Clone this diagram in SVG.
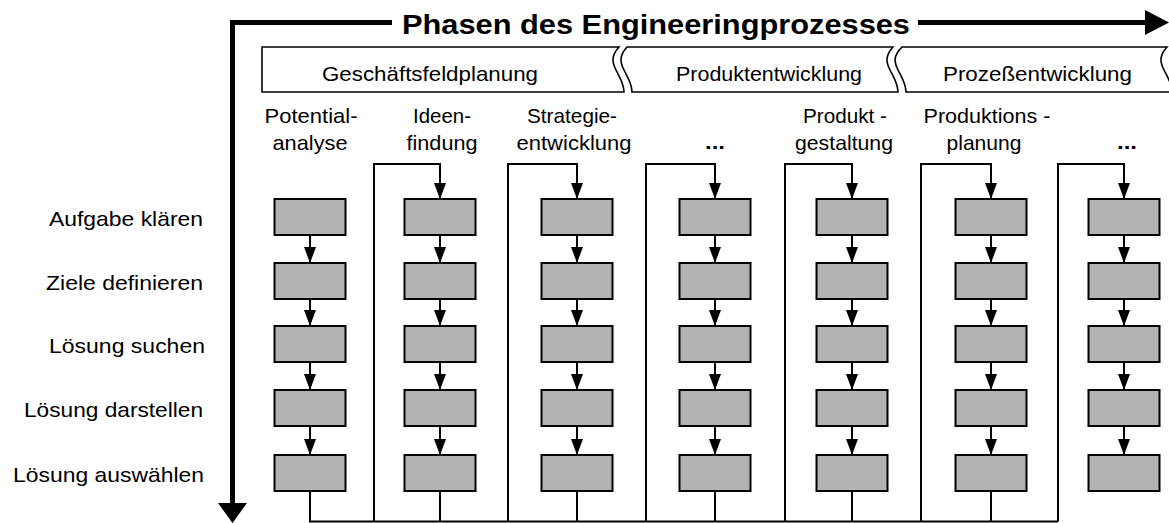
<svg xmlns="http://www.w3.org/2000/svg" width="1169" height="523" viewBox="0 0 1169 523">
<style>
text{font-family:"Liberation Sans",Arial,sans-serif;fill:#000}
.t{font-size:21px}
.c{font-size:21px;text-anchor:middle}
.l{font-size:21px;text-anchor:end}
.b{font-weight:bold}
.box{fill:#b3b3b3;stroke:#000;stroke-width:2}
.seg{fill:#fff;stroke:#000;stroke-width:1.6}
.ln{fill:none;stroke:#000;stroke-width:2}
</style>
<defs>
<marker id="ah" markerUnits="userSpaceOnUse" markerWidth="16" markerHeight="12" refX="16" refY="6" orient="auto">
<path d="M0,0 L16,6 L0,12 Z" fill="#000"/>
</marker>
</defs>

<g id="axes">
<path d="M232.5,514 V22.5 H392 M918,22.5 H1148" fill="none" stroke="#000" stroke-width="5"/>
<polygon points="1145,10 1169,22.5 1145,35" fill="#000"/>
<polygon points="218,503 247,503 232.5,523" fill="#000"/>
<text x="402" y="34" font-size="27.5" class="b" textLength="508" lengthAdjust="spacingAndGlyphs">Phasen des Engineeringprozesses</text>
</g>

<g id="header">
<path class="seg" d="M262,47 H619 C611,56 612,62 616,70 C620,78 624,84 624,92 H262 Z"/>
<path class="seg" d="M627,47 H893 C885,56 886,62 890,70 C894,78 898,84 898,92 H632 C632,84 628,78 624,70 C620,62 619,56 627,47 Z"/>
<path class="seg" d="M902,47 H1167 C1159,56 1160,62 1164,70 C1168,78 1172,84 1172,92 H906 C906,84 902,78 898,70 C894,62 893,56 902,47 Z"/>
<text class="t" x="322" y="81" textLength="216" lengthAdjust="spacingAndGlyphs">Geschäftsfeldplanung</text>
<text class="t" x="676" y="81" textLength="186" lengthAdjust="spacingAndGlyphs">Produktentwicklung</text>
<text class="t" x="943" y="81" textLength="189" lengthAdjust="spacingAndGlyphs">Prozeßentwicklung</text>
</g>

<g id="row-labels">
<text class="l" x="203" y="226" textLength="154" lengthAdjust="spacingAndGlyphs">Aufgabe klären</text>
<text class="l" x="203" y="290" textLength="157" lengthAdjust="spacingAndGlyphs">Ziele definieren</text>
<text class="l" x="205" y="353" textLength="156" lengthAdjust="spacingAndGlyphs">Lösung suchen</text>
<text class="l" x="203" y="417" textLength="179" lengthAdjust="spacingAndGlyphs">Lösung darstellen</text>
<text class="l" x="204" y="482" textLength="191" lengthAdjust="spacingAndGlyphs">Lösung auswählen</text>
</g>

<g id="col-labels">
<text class="c" x="311" y="123" textLength="93" lengthAdjust="spacingAndGlyphs">Potential-</text>
<text class="c" x="310" y="150" textLength="75" lengthAdjust="spacingAndGlyphs">analyse</text>
<text class="c" x="442" y="123" textLength="58" lengthAdjust="spacingAndGlyphs">Ideen-</text>
<text class="c" x="442" y="150" textLength="71" lengthAdjust="spacingAndGlyphs">findung</text>
<text class="c" x="572" y="123" textLength="90" lengthAdjust="spacingAndGlyphs">Strategie-</text>
<text class="c" x="574" y="150" textLength="115" lengthAdjust="spacingAndGlyphs">entwicklung</text>
<text class="c b" x="715" y="149" textLength="20" lengthAdjust="spacingAndGlyphs">...</text>
<text class="c" x="845" y="123" textLength="84" lengthAdjust="spacingAndGlyphs">Produkt -</text>
<text class="c" x="844" y="150" textLength="98" lengthAdjust="spacingAndGlyphs">gestaltung</text>
<text class="c" x="987" y="123" textLength="127" lengthAdjust="spacingAndGlyphs">Produktions -</text>
<text class="c" x="984" y="150" textLength="75" lengthAdjust="spacingAndGlyphs">planung</text>
<text class="c b" x="1127" y="149" textLength="20" lengthAdjust="spacingAndGlyphs">...</text>
</g>

<g id="connectors">
<path class="ln" d="M310,491 V521.5 H1058"/>
<path class="ln" d="M374,521.5 V164 H440 V199" marker-end="url(#ah)"/>
<path class="ln" d="M508,521.5 V164 H577 V199" marker-end="url(#ah)"/>
<path class="ln" d="M646,521.5 V164 H715 V199" marker-end="url(#ah)"/>
<path class="ln" d="M785,521.5 V164 H852 V199" marker-end="url(#ah)"/>
<path class="ln" d="M921,521.5 V164 H991 V199" marker-end="url(#ah)"/>
<path class="ln" d="M1058,521.5 V164 H1124 V199" marker-end="url(#ah)"/>
<path class="ln" d="M440,491 V521.5 M577,491 V521.5 M715,491 V521.5 M852,491 V521.5 M991,491 V521.5"/>
<path class="ln" d="M310,235 V263" marker-end="url(#ah)"/><path class="ln" d="M310,299 V326" marker-end="url(#ah)"/><path class="ln" d="M310,362 V390" marker-end="url(#ah)"/><path class="ln" d="M310,426 V455" marker-end="url(#ah)"/>
<path class="ln" d="M440,235 V263" marker-end="url(#ah)"/><path class="ln" d="M440,299 V326" marker-end="url(#ah)"/><path class="ln" d="M440,362 V390" marker-end="url(#ah)"/><path class="ln" d="M440,426 V455" marker-end="url(#ah)"/>
<path class="ln" d="M577,235 V263" marker-end="url(#ah)"/><path class="ln" d="M577,299 V326" marker-end="url(#ah)"/><path class="ln" d="M577,362 V390" marker-end="url(#ah)"/><path class="ln" d="M577,426 V455" marker-end="url(#ah)"/>
<path class="ln" d="M715,235 V263" marker-end="url(#ah)"/><path class="ln" d="M715,299 V326" marker-end="url(#ah)"/><path class="ln" d="M715,362 V390" marker-end="url(#ah)"/><path class="ln" d="M715,426 V455" marker-end="url(#ah)"/>
<path class="ln" d="M852,235 V263" marker-end="url(#ah)"/><path class="ln" d="M852,299 V326" marker-end="url(#ah)"/><path class="ln" d="M852,362 V390" marker-end="url(#ah)"/><path class="ln" d="M852,426 V455" marker-end="url(#ah)"/>
<path class="ln" d="M991,235 V263" marker-end="url(#ah)"/><path class="ln" d="M991,299 V326" marker-end="url(#ah)"/><path class="ln" d="M991,362 V390" marker-end="url(#ah)"/><path class="ln" d="M991,426 V455" marker-end="url(#ah)"/>
<path class="ln" d="M1124,235 V263" marker-end="url(#ah)"/><path class="ln" d="M1124,299 V326" marker-end="url(#ah)"/><path class="ln" d="M1124,362 V390" marker-end="url(#ah)"/><path class="ln" d="M1124,426 V455" marker-end="url(#ah)"/>
</g>

<g id="col1"><rect class="box" x="274.5" y="199" width="71" height="36"/><rect class="box" x="274.5" y="263" width="71" height="36"/><rect class="box" x="274.5" y="326" width="71" height="36"/><rect class="box" x="274.5" y="390" width="71" height="36"/><rect class="box" x="274.5" y="455" width="71" height="36"/></g>
<g id="col2"><rect class="box" x="404.5" y="199" width="71" height="36"/><rect class="box" x="404.5" y="263" width="71" height="36"/><rect class="box" x="404.5" y="326" width="71" height="36"/><rect class="box" x="404.5" y="390" width="71" height="36"/><rect class="box" x="404.5" y="455" width="71" height="36"/></g>
<g id="col3"><rect class="box" x="541.5" y="199" width="71" height="36"/><rect class="box" x="541.5" y="263" width="71" height="36"/><rect class="box" x="541.5" y="326" width="71" height="36"/><rect class="box" x="541.5" y="390" width="71" height="36"/><rect class="box" x="541.5" y="455" width="71" height="36"/></g>
<g id="col4"><rect class="box" x="679.5" y="199" width="71" height="36"/><rect class="box" x="679.5" y="263" width="71" height="36"/><rect class="box" x="679.5" y="326" width="71" height="36"/><rect class="box" x="679.5" y="390" width="71" height="36"/><rect class="box" x="679.5" y="455" width="71" height="36"/></g>
<g id="col5"><rect class="box" x="816.5" y="199" width="71" height="36"/><rect class="box" x="816.5" y="263" width="71" height="36"/><rect class="box" x="816.5" y="326" width="71" height="36"/><rect class="box" x="816.5" y="390" width="71" height="36"/><rect class="box" x="816.5" y="455" width="71" height="36"/></g>
<g id="col6"><rect class="box" x="955.5" y="199" width="71" height="36"/><rect class="box" x="955.5" y="263" width="71" height="36"/><rect class="box" x="955.5" y="326" width="71" height="36"/><rect class="box" x="955.5" y="390" width="71" height="36"/><rect class="box" x="955.5" y="455" width="71" height="36"/></g>
<g id="col7"><rect class="box" x="1088.5" y="199" width="71" height="36"/><rect class="box" x="1088.5" y="263" width="71" height="36"/><rect class="box" x="1088.5" y="326" width="71" height="36"/><rect class="box" x="1088.5" y="390" width="71" height="36"/><rect class="box" x="1088.5" y="455" width="71" height="36"/></g>
</svg>
